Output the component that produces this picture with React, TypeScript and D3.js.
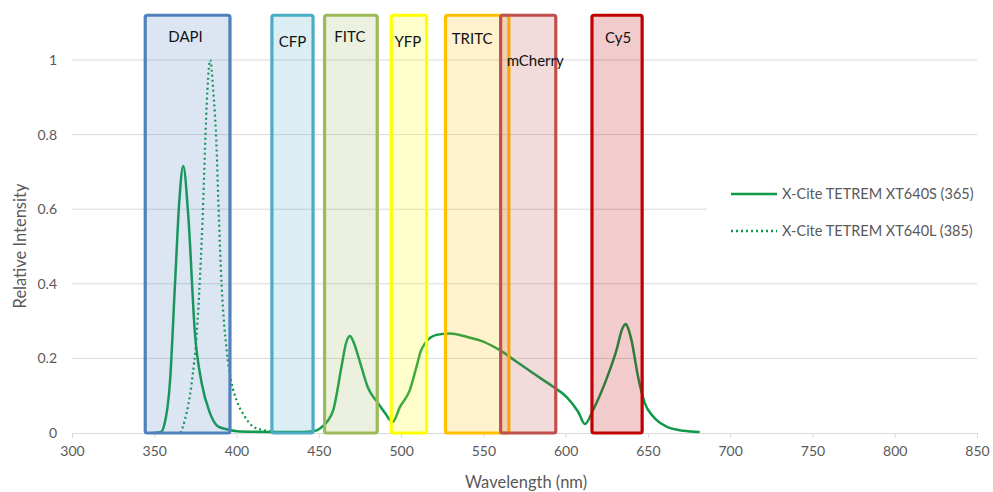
import { useEffect, useRef } from "react";
import * as d3 from "d3";

// X-Cite TETREM XT640S (365)
const waveS = [349, 354, 356, 359.5, 362.6, 365.2, 367.6, 370.7, 374.7, 378.8, 383.8, 388.9, 394, 402, 420, 440, 447, 450.7, 455, 458.8, 463.8, 466.5, 468.9, 471, 474, 480, 486, 490, 493.2, 495, 499.3, 505.3, 509.4, 512, 514.5, 521.5, 529.6, 539.8, 549.9, 560, 570.2, 580.3, 592.4, 600.5, 607.6, 611.7, 616.7, 623.8, 630.9, 634.5, 636.6, 638, 640, 644, 648.1, 653.2, 661.3, 671.4, 681.5];
const intensityS = [0, 0.003, 0.02, 0.134, 0.4, 0.62, 0.716, 0.58, 0.268, 0.134, 0.054, 0.017, 0.01, 0.004, 0.003, 0.003, 0.005, 0.012, 0.03, 0.062, 0.178, 0.24, 0.26, 0.245, 0.205, 0.12, 0.08, 0.055, 0.035, 0.03, 0.07, 0.115, 0.178, 0.22, 0.24, 0.263, 0.267, 0.258, 0.245, 0.222, 0.191, 0.16, 0.124, 0.097, 0.057, 0.024, 0.062, 0.133, 0.222, 0.28, 0.292, 0.28, 0.249, 0.151, 0.08, 0.044, 0.017, 0.006, 0.003];

// X-Cite TETREM XT640L (385)
const waveL = [366, 368.6, 372.7, 375.8, 377.8, 379.8, 380.8, 382.3, 384, 385.8, 387.9, 388.9, 390.9, 394, 397, 400, 405, 410.1, 418.3, 425];
const intensityL = [0, 0.035, 0.133, 0.267, 0.419, 0.625, 0.759, 0.92, 1.0, 0.92, 0.759, 0.625, 0.4, 0.222, 0.133, 0.088, 0.044, 0.017, 0.006, 0.002];

const seriesNames = ["X-Cite TETREM XT640S (365)", "X-Cite TETREM XT640L (385)"];

// filter bands (nm)
const filterNames = ["DAPI", "CFP", "FITC", "YFP", "TRITC", "mCherry", "Cy5"];
const filterStart = [344.5, 421.5, 453.5, 494, 527, 560.5, 616];
const filterEnd = [396, 446.5, 485.5, 515.5, 565.5, 594, 646.5];

const xTicks = [300, 350, 400, 450, 500, 550, 600, 650, 700, 750, 800, 850];
const yTicks = [0, 0.2, 0.4, 0.6, 0.8, 1];

const filterColor: Record<string, string> = {
  DAPI: "#4F81BD",
  CFP: "#4BACC6",
  FITC: "#9BBB59",
  YFP: "#FFFF00",
  TRITC: "#FFC000",
  mCherry: "#C0504D",
  Cy5: "#C00000",
};
// label placement inside each box: [y, x shift]
const filterLabelPos: Record<string, [number, number]> = {
  DAPI: [37, -2], CFP: [42, 0], FITC: [37, -1], YFP: [42, -1], TRITC: [39, -5], mCherry: [61, 7], Cy5: [38, 1],
};

const W = 993;
const H = 492;
const FONT = "Lato, 'Open Sans', sans-serif";
const GREEN = "#0E9A48";
const GRAY = "#595959";

export default function App() {
  const svgRef = useRef<SVGSVGElement | null>(null);

  useEffect(() => {
    if (!svgRef.current) return;
    const svg = d3.select(svgRef.current);
    svg.selectAll("*").remove();

    const x = d3.scaleLinear().domain([300, 850]).range([72, 977]);
    const y = d3.scaleLinear().domain([0, 1]).range([433, 60]);
    const boxTop = 1.12;

    // gridlines
    svg
      .append("g")
      .selectAll("line")
      .data(yTicks.filter((t) => t > 0))
      .join("line")
      .attr("x1", x(300))
      .attr("x2", x(850))
      .attr("y1", (d) => y(d))
      .attr("y2", (d) => y(d))
      .attr("stroke", "#D9D9D9")
      .attr("stroke-width", 1);

    // x axis
    const xAxis = svg
      .append("g")
      .attr("transform", `translate(0,${y(0)})`)
      .call(d3.axisBottom(x).tickValues(xTicks).tickSize(5).tickPadding(8).tickFormat(d3.format("d")));
    xAxis.select(".domain").attr("stroke", "#D9D9D9");
    xAxis.selectAll("line").attr("stroke", "#D9D9D9");
    xAxis.selectAll("text").attr("fill", GRAY).attr("font-size", 14).attr("font-family", FONT);

    // y tick labels
    svg
      .append("g")
      .selectAll("text")
      .data(yTicks)
      .join("text")
      .attr("x", 57)
      .attr("y", (d) => y(d))
      .attr("dy", "0.35em")
      .attr("text-anchor", "end")
      .attr("fill", GRAY)
      .attr("font-size", 14)
      .attr("font-family", FONT)
      .text((d) => String(d));

    // curves
    const line = d3
      .line<[number, number]>()
      .x((d) => x(d[0]))
      .y((d) => y(d[1]))
      .curve(d3.curveMonotoneX);

    svg
      .append("path")
      .datum(waveS.map((w, i) => [w, intensityS[i]] as [number, number]))
      .attr("d", line)
      .attr("fill", "none")
      .attr("stroke", GREEN)
      .attr("stroke-width", 2.5)
      .attr("stroke-linejoin", "round");

    svg
      .append("path")
      .datum(waveL.map((w, i) => [w, intensityL[i]] as [number, number]))
      .attr("d", line)
      .attr("fill", "none")
      .attr("stroke", GREEN)
      .attr("stroke-width", 2.25)
      .attr("stroke-dasharray", "2 3");

    // filter boxes
    const boxes = svg.append("g");
    filterNames.forEach((name, i) => {
      const c = filterColor[name];
      const [ly, dx] = filterLabelPos[name];
      boxes
        .append("rect")
        .attr("x", x(filterStart[i]))
        .attr("y", y(boxTop))
        .attr("width", x(filterEnd[i]) - x(filterStart[i]))
        .attr("height", y(0) - y(boxTop))
        .attr("rx", 2)
        .attr("fill", c)
        .attr("fill-opacity", 0.2)
        .attr("stroke", c)
        .attr("stroke-width", 3.2);
      boxes
        .append("text")
        .attr("x", (x(filterStart[i]) + x(filterEnd[i])) / 2 + dx)
        .attr("y", ly)
        .attr("dy", "0.35em")
        .attr("text-anchor", "middle")
        .attr("font-size", 15)
        .attr("font-family", FONT)
        .attr("fill", "#111")
        .text(name);
    });

    // legend
    const legend = svg.append("g");
    legend.append("rect").attr("x", 707).attr("y", 172).attr("width", 286).attr("height", 82).attr("fill", "#fff");
    seriesNames.forEach((name, i) => {
      const ly = 194 + i * 37;
      legend
        .append("line")
        .attr("x1", 731)
        .attr("x2", 777)
        .attr("y1", ly)
        .attr("y2", ly)
        .attr("stroke", GREEN)
        .attr("stroke-width", 2.5)
        .attr("stroke-dasharray", i === 1 ? "2 3" : null);
      legend
        .append("text")
        .attr("x", 782)
        .attr("y", ly)
        .attr("dy", "0.35em")
        .attr("fill", GRAY)
        .attr("font-size", 14.5)
        .attr("font-family", FONT)
        .text(name);
    });

    // axis titles
    svg
      .append("text")
      .attr("x", 526)
      .attr("y", 482)
      .attr("dy", "0.35em")
      .attr("text-anchor", "middle")
      .attr("fill", GRAY)
      .attr("font-size", 16.5)
      .attr("font-family", FONT)
      .text("Wavelength (nm)");
    svg
      .append("text")
      .attr("transform", `translate(20,246) rotate(-90)`)
      .attr("dy", "0.35em")
      .attr("text-anchor", "middle")
      .attr("fill", GRAY)
      .attr("font-size", 16.5)
      .attr("font-family", FONT)
      .text("Relative Intensity");
  }, []);

  return (
    <svg
      ref={svgRef}
      width={W}
      height={H}
      viewBox={`0 0 ${W} ${H}`}
      style={{ position: "absolute", left: 0, top: 0, background: "#fff" }}
    />
  );
}
